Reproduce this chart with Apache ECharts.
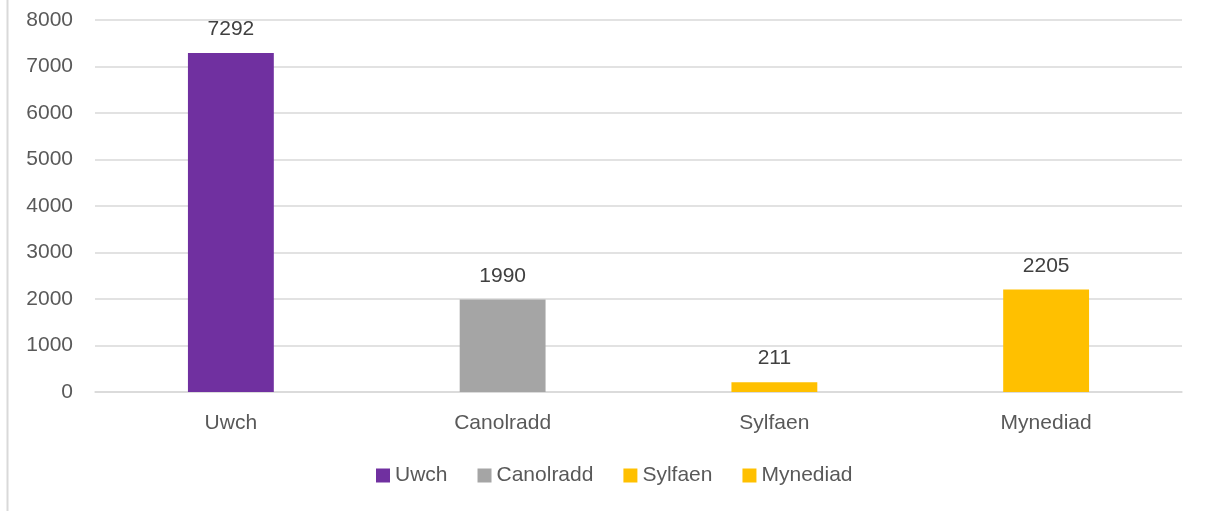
<!DOCTYPE html>
<html><head><meta charset="utf-8">
<script src="https://cdn.jsdelivr.net/npm/echarts@6/dist/echarts.min.js"></script>
<style>html,body{margin:0;padding:0;background:#fff}#c{width:1205px;height:511px}</style>
</head><body><div id="c"></div>
<script>
const categories = ['Uwch', 'Canolradd', 'Sylfaen', 'Mynediad'];
const values = [7292, 1990, 211, 2205];
const colors = ['#7030A0', '#A5A5A5', '#FFC000', '#FFC000'];
const yTicks = [0, 1000, 2000, 3000, 4000, 5000, 6000, 7000, 8000];

const FONT = '"Liberation Sans", "Open Sans", sans-serif';
const FS = 21;
const series = categories.map((name, i) => ({
  name: name,
  type: 'bar',
  stack: 'all',
  barWidth: '31.6%',
  itemStyle: { color: colors[i] },
  label: { show: true, position: 'top', distance: 13, color: '#404040', fontSize: FS, fontFamily: FONT },
  data: categories.map((c, j) => j === i ? values[i] : '-')
}));

const chart = echarts.init(document.getElementById('c'));
chart.setOption({
  animation: false,
  color: colors,
  grid: { left: 95, right: 23, top: 20, bottom: 119, containLabel: false },
  legend: {
    bottom: 20, left: 371,
    icon: 'rect', itemWidth: 14, itemHeight: 14, itemGap: 30,
    textStyle: { color: '#595959', fontSize: FS, fontFamily: FONT },
    data: categories
  },
  xAxis: {
    type: 'category', data: categories,
    axisLine: { show: true, lineStyle: { color: '#d9d9d9', width: 1.5 } },
    axisTick: { show: false },
    axisLabel: { color: '#595959', fontSize: FS, fontFamily: FONT, margin: 21 }
  },
  yAxis: {
    type: 'value', min: yTicks[0], max: yTicks[yTicks.length - 1], interval: 1000,
    axisLine: { show: false }, axisTick: { show: false },
    splitLine: { lineStyle: { color: '#d9d9d9', width: 1.5 } },
    axisLabel: { color: '#595959', fontSize: FS, fontFamily: FONT, margin: 22, formatter: v => String(v) }
  },
  graphic: [{
    type: 'line', shape: { x1: 7.5, y1: 0, x2: 7.5, y2: 511 },
    style: { stroke: '#d9d9d9', lineWidth: 2 }
  }],
  series: series
});
</script></body></html>
